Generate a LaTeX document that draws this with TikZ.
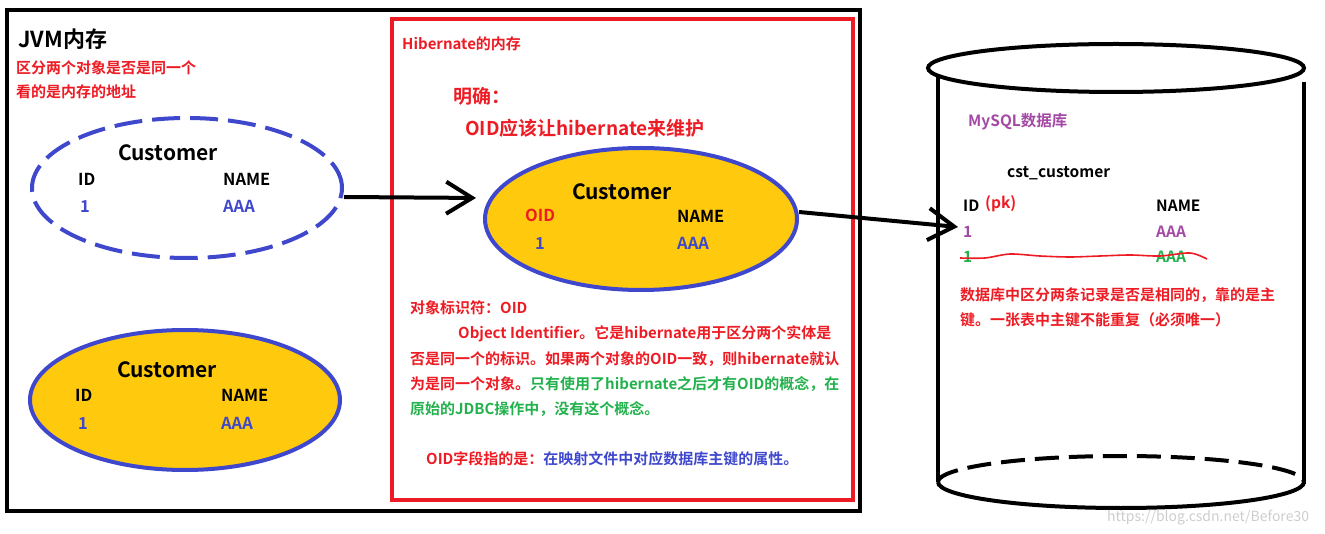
\documentclass[tikz,border=0pt]{standalone}
\usepackage{fontspec}
\setmainfont{Noto Sans CJK SC}[BoldFont={Noto Sans CJK SC Bold}]
\usetikzlibrary{shapes.geometric,arrows.meta}
\definecolor{cred}{RGB}{237,28,36}
\definecolor{cblue}{RGB}{63,72,204}
\definecolor{cyel}{RGB}{255,201,14}
\definecolor{cgreen}{RGB}{34,177,76}
\definecolor{cpurp}{RGB}{163,73,164}
\definecolor{cwm}{RGB}{205,205,205}
\newcommand\myfs[1]{\fontsize{#1}{#1}\selectfont\bfseries}
\tikzset{
  lbl/.style={inner sep=0pt, anchor=base west},
  clbl/.style={inner sep=0pt, anchor=base},
  obj/.style={ellipse, inner sep=0pt, line width=4pt, draw=cblue, minimum width=310pt, minimum height=140pt},
  arr/.style={line width=4pt, -{Straight Barb[length=26pt,width=32pt]}},
  cyl/.style={line width=4pt},
}
\begin{document}
\begin{tikzpicture}[x=1pt,y=-1pt]
\useasboundingbox (0,0) rectangle (1325,534);
% frames
\draw[line width=4pt] (6.5,10.5) rectangle (860,511);
\draw[cred, line width=4pt] (392,19) rectangle (853,500);

% JVM texts
\node[lbl, font=\myfs{22}] (jvm) at (18,48) {JVM内存};
\node[lbl, font=\myfs{15}, text=cred] (jvm1) at (16,73.5) {区分两个对象是否是同一个};
\node[lbl, font=\myfs{15}, text=cred] (jvm2) at (16,97.5) {看的是内存的地址};

% JVM objects
\node[obj, dash pattern=on 28pt off 10pt] (o1) at (187,188) {};
\node[clbl, font=\myfs{21}] (o1c) at (168,160.5) {Customer};
\node[lbl, font=\myfs{16.5}] (o1id) at (78,186) {ID};
\node[lbl, font=\myfs{16.5}] (o1nm) at (223,186) {NAME};
\node[lbl, font=\myfs{16.5}, text=cblue] (o1v) at (80,213) {1};
\node[lbl, font=\myfs{16.5}, text=cblue] (o1a) at (223,213) {AAA};

\node[obj, fill=cyel] (o2) at (185,400) {};
\node[clbl, font=\myfs{21}] (o2c) at (167,377.5) {Customer};
\node[lbl, font=\myfs{16.5}] (o2id) at (75,402) {ID};
\node[lbl, font=\myfs{16.5}] (o2nm) at (221,402) {NAME};
\node[lbl, font=\myfs{16.5}, text=cblue] (o2v) at (78,429) {1};
\node[lbl, font=\myfs{16.5}, text=cblue] (o2a) at (221,429) {AAA};

% Hibernate
\node[lbl, font=\myfs{15}, text=cred] (hib) at (402,50) {Hibernate的内存};
\node[lbl, font=\myfs{19}, text=cred] (ming) at (453,104) {明确：};
\node[lbl, font=\myfs{19}, text=cred] (oidh) at (465,136) {OID应该让hibernate来维护};

\node[obj, fill=cyel, minimum width=312pt, minimum height=142pt] (o3) at (641,219) {};
\node[clbl, font=\myfs{21}] (o3c) at (622,199.5) {Customer};
\node[lbl, font=\myfs{16.5}, text=cred] (o3id) at (525,222) {OID};
\node[lbl, font=\myfs{16.5}] (o3nm) at (677,223) {NAME};
\node[lbl, font=\myfs{16.5}, text=cblue] (o3v) at (535,250) {1};
\node[lbl, font=\myfs{16.5}, text=cblue] (o3a) at (677,250) {AAA};

\node[lbl, font=\myfs{15}, text=cred] (p1) at (410,313.5) {对象标识符：OID};
\node[lbl, font=\myfs{15}, text=cred] (p2) at (458,338.5) {Object Identifier。它是hibernate用于区分两个实体是};
\node[lbl, font=\myfs{15}, text=cred] (p3) at (410,364.5) {否是同一个的标识。如果两个对象的OID一致，则hibernate就认};
\node[lbl, font=\myfs{15}, text=cred] (p4) at (410,389.5) {为是同一个对象。\textcolor{cgreen}{只有使用了hibernate之后才有OID的概念，在}};
\node[lbl, font=\myfs{15}, text=cgreen] (p5) at (410,414.5) {原始的JDBC操作中，没有这个概念。};
\node[lbl, font=\myfs{15}, text=cred] (p6) at (426,464.5) {OID字段指的是：\textcolor{cblue}{在映射文件中对应数据库主键的属性。}};

% database cylinder
\draw[cyl] (1116,68) ellipse [x radius=188pt, y radius=24pt];
\draw[cyl] (938,76) -- (938,482);
\draw[cyl] (1304,82) -- (1304,484);
\draw[cyl] (938,482) arc[start angle=180, end angle=360, x radius=183pt, y radius=26pt];
\draw[cyl, dash pattern=on 24pt off 10pt] (938,482) arc[start angle=180, end angle=0, x radius=183pt, y radius=26pt];

\node[lbl, font=\myfs{15.5}, text=cpurp] (mysql) at (968,127) {MySQL数据库};
\node[lbl, font=\myfs{15.5}] (tbl) at (1007,178) {cst\_customer};
\node[lbl, font=\myfs{15.5}] (tid) at (963,212) {ID};
\node[lbl, font=\myfs{15.5}, text=cred] (tpk) at (985,209) {(pk)};
\node[lbl, font=\myfs{15.5}] (tnm) at (1156,212) {NAME};
\node[lbl, font=\myfs{15.5}, text=cpurp] (r1v) at (963,238) {1};
\node[lbl, font=\myfs{15.5}, text=cpurp] (r1a) at (1156,238) {AAA};
\node[lbl, font=\myfs{15.5}, text=cgreen] (r2v) at (963,263) {1};
\node[lbl, font=\myfs{15.5}, text=cgreen] (r2a) at (1156,263) {AAA};
\draw[cred, line width=1.6pt] plot[smooth] coordinates {(960,258) (985,258) (1010,254) (1040,256) (1070,257) (1100,256) (1130,255) (1160,256) (1190,253) (1207,259)};
\node[lbl, font=\myfs{15}, text=cred] (d1) at (960,300.5) {数据库中区分两条记录是否是相同的，靠的是主};
\node[lbl, font=\myfs{15}, text=cred] (d2) at (960,325.5) {键。一张表中主键不能重复（必须唯一）};

% arrows
\coordinate (dbin) at (958,227);
\draw[arr, shorten >=7pt] ([yshift=-9pt]o1.east) -- ([yshift=21pt]o3.west);
\draw[arr] ([yshift=7pt]o3.east) -- (dbin);

% watermark
\node[lbl, font=\fontsize{14}{14}\selectfont, text=cwm] (wm) at (1107,521) {https://blog.csdn.net/Before30};
\end{tikzpicture}
\end{document}
